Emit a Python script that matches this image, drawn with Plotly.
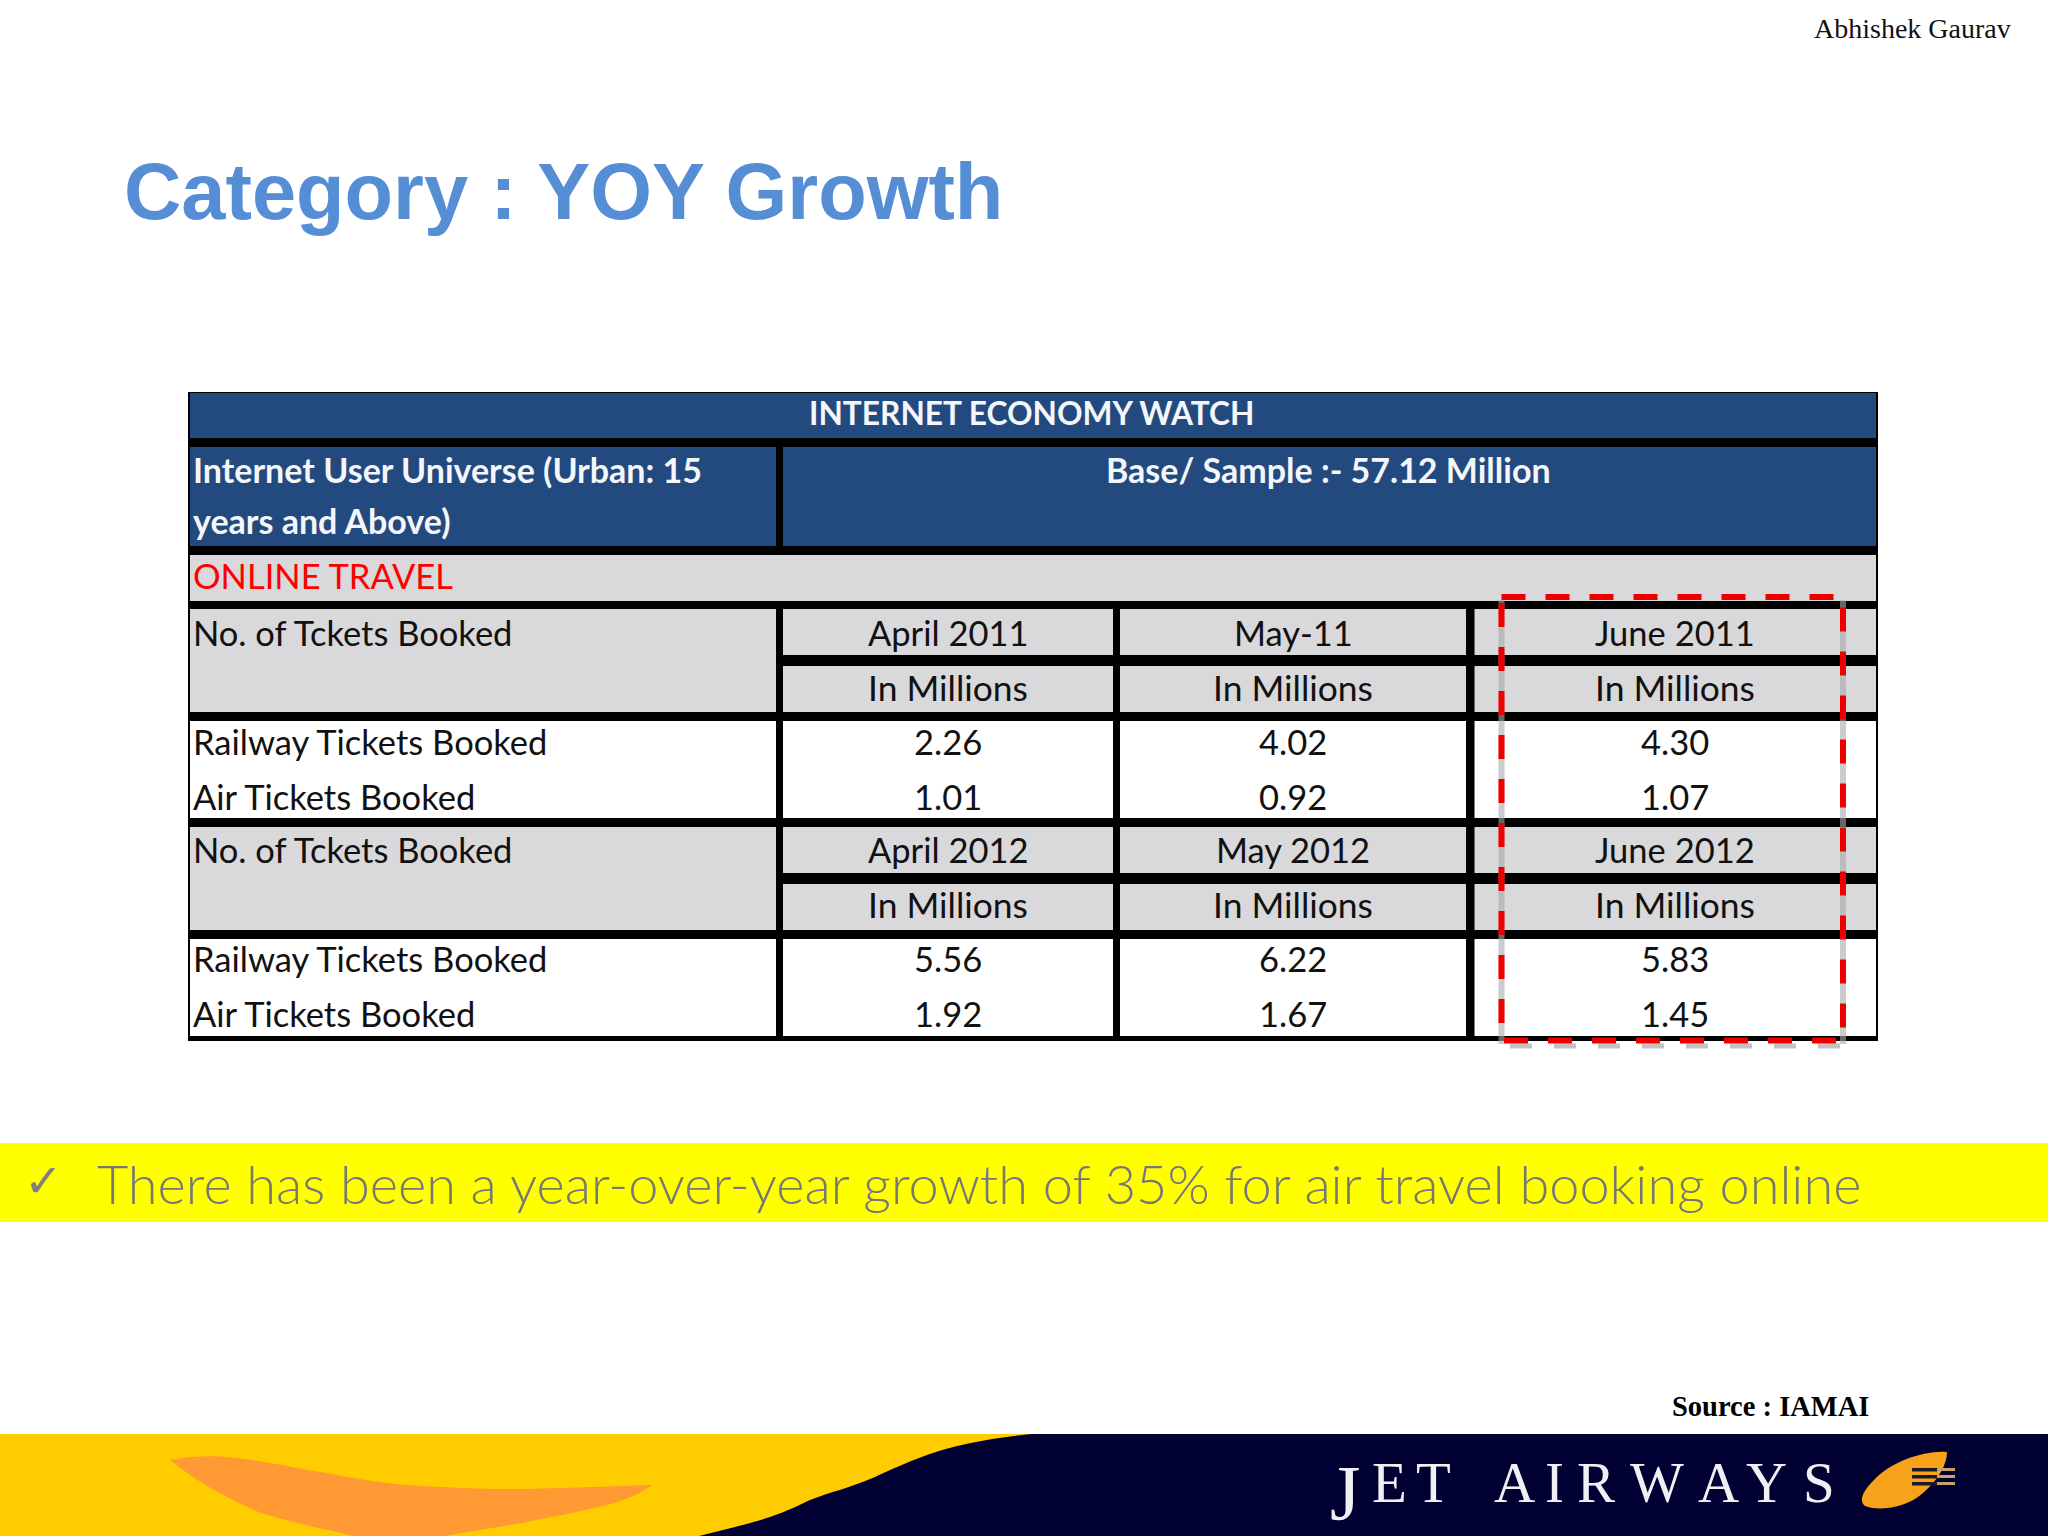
# Slide with the online travel table (Internet Economy Watch)

import plotly.graph_objects as go

months_2011 = ["April 2011", "May-11", "June 2011"]
railway_2011 = [2.26, 4.02, 4.30]
air_2011 = [1.01, 0.92, 1.07]
months_2012 = ["April 2012", "May 2012", "June 2012"]
railway_2012 = [5.56, 6.22, 5.83]
air_2012 = [1.92, 1.67, 1.45]
unit = "In Millions"
logo_letters = ["E", "T", "A", "I", "R", "W", "A", "Y", "S"]

NAVY = "#234A7E"
GRAY = "#D9D8DA"
TABLE_FONT = "Lato"

# cell edges of the table, in slide pixels
col_edges = [(190, 776), (783, 1113), (1120, 1466), (1474.5, 1876)]
col_mid = [948, 1293, 1675]
text_left = 191
logo_x = [1389, 1433, 1514, 1554, 1596, 1657, 1718, 1766, 1819]

fig = go.Figure()
shapes = []
notes = []


def box(x0, y0, x1, y1, color):
    shapes.append(dict(type="rect", x0=x0, y0=y0, x1=x1, y1=y1, fillcolor=color,
                       line_width=0, layer="below"))


def poly(path, color):
    shapes.append(dict(type="path", path=path, fillcolor=color, line_width=0, layer="below"))


def label(x, y, text, size, color="#111111", family=TABLE_FONT, anchor="center", weight=None):
    notes.append(dict(x=x, y=y, text=text, showarrow=False, xanchor=anchor, yanchor="middle",
                      font=dict(family=family, size=size, color=color, weight=weight)))


# table
box(188, 392, 1878, 1041, "#000000")
box(190, 393, 1876, 438, NAVY)
box(190, 447, 776, 546, NAVY)
box(783, 447, 1876, 546, NAVY)
box(190, 555, 1876, 601, GRAY)
box(190, 609, 776, 712, GRAY)
box(190, 827, 776, 930, GRAY)
for y0, y1 in [(721, 818), (939, 1036)]:
    box(190, y0, 776, y1, "#FFFFFF")
for x0, x1 in col_edges[1:]:
    box(x0, 609, x1, 655, GRAY)
    box(x0, 666, x1, 712, GRAY)
    box(x0, 721, x1, 818, "#FFFFFF")
    box(x0, 827, x1, 873, GRAY)
    box(x0, 884, x1, 930, GRAY)
    box(x0, 939, x1, 1036, "#FFFFFF")

label(1032, 413, "<b>INTERNET ECONOMY WATCH</b>", 31.7, "#F4F6FA")
label(text_left, 469, "<b>Internet User Universe (Urban: 15</b>", 34, "#F4F6FA", anchor="left")
label(text_left, 520, "<b>years and Above)</b>", 34, "#F4F6FA", anchor="left")
label(1328, 469, "<b>Base/ Sample :- 57.12 Million</b>", 34, "#F4F6FA")
label(text_left, 575, "ONLINE TRAVEL", 34.5, "#FF0000", anchor="left")

for y, months, railway, air in [(632, months_2011, railway_2011, air_2011),
                                (849, months_2012, railway_2012, air_2012)]:
    label(text_left, y, "No. of Tckets Booked", 34.5, anchor="left")
    label(text_left, y + 109, "Railway Tickets Booked", 34.5, anchor="left")
    label(text_left, y + 164, "Air Tickets Booked", 34.5, anchor="left")
    for i, x in enumerate(col_mid):
        label(x, y, months[i], 34.5)
        label(x, y + 55, unit, 35.4)
        label(x, y + 109, f"{railway[i]:.2f}", 34.5)
        label(x, y + 164, f"{air[i]:.2f}", 34.5)

# dashed highlight around June, with its soft shadow
for x in [1501.5, 1843]:
    shapes.append(dict(type="line", x0=x, y0=600, x1=x, y1=1044, layer="above",
                       line=dict(color="rgba(170,170,170,0.6)", width=6)))
shapes.append(dict(type="line", x0=1510, y0=1046, x1=1847, y1=1046, layer="above",
                   line=dict(color="rgba(170,170,170,0.7)", width=5, dash="22px,22px")))
shapes.append(dict(type="rect", x0=1501.5, y0=597, x1=1843, y1=1040.5, layer="above",
                   line=dict(color="#EE0000", width=6, dash="24px,20px")))

# title and header texts
label(122, 191, "<b>Category : YOY Growth</b>", 79.4, "#558ED5", "Liberation Sans", "left")
label(2013, 28, "Abhishek Gaurav", 28, "#111111", "Liberation Serif", "right")
label(1871, 1406, "<b>Source : IAMAI</b>", 28.5, "#000000", "Liberation Serif", "right")

# yellow takeaway band
box(0, 1143, 2048, 1222, "#FFFF00")
label(22, 1181, "✓", 46, "#808080", "DejaVu Sans", "left")
label(95, 1183, "There has been a year-over-year growth of 35% for air travel booking online", 54.1,
      "#777777", "Lato", "left", 300)

# footer band with the logo
box(0, 1434, 2048, 1536, "#FFCC00")
poly("M 1032 1434 C 990 1438 955 1445 927 1455 C 905 1463 890 1470 875 1477 C 850 1488 830 1492 810 1500 "
     "C 795 1507 785 1512 770 1517 C 755 1522 745 1524 731 1528 L 699 1536 "
     "L 2048 1536 L 2048 1434 Z", "#000033")
poly("M 170 1460 C 190 1456 215 1455 235 1458 C 270 1462 295 1468 327 1473 C 370 1482 405 1486 444 1487 "
     "C 490 1490 525 1489 562 1488 L 653 1485 C 640 1493 630 1498 614 1503 C 580 1512 550 1517 522 1523 "
     "L 444 1536 L 353 1536 C 320 1528 290 1522 261 1513 C 225 1498 195 1480 170 1460 Z", "#FF9933")
label(1345, 1492, "J", 78, "#F0F0F4", "Liberation Serif")
for ch, x in zip(logo_letters, logo_x):
    label(x, 1482, ch, 57, "#F0F0F4", "Liberation Serif")
poly("M 1947 1452 C 1925 1450 1890 1462 1874 1480 C 1864 1490 1858 1500 1865 1506 "
     "C 1880 1512 1908 1507 1923 1493 C 1938 1480 1947 1465 1947 1452 Z", "#F7A21B")
for y0 in [1468, 1475, 1482]:
    box(1912, y0, 1937, y0 + 3.5, "#1A1A2A")
    box(1937, y0, 1955, y0 + 3, "#C9A066")

fig.update_layout(
    width=2048,
    height=1536,
    margin=dict(l=0, r=0, t=0, b=0),
    paper_bgcolor="#FFFFFF",
    plot_bgcolor="#FFFFFF",
    showlegend=False,
    shapes=shapes,
    annotations=notes,
    xaxis=dict(range=[0, 2048], visible=False),
    yaxis=dict(range=[1536, 0], visible=False),
)

fig.write_html("out.html", config=dict(displayModeBar=False),
               post_script="document.body.style.margin='0';")
